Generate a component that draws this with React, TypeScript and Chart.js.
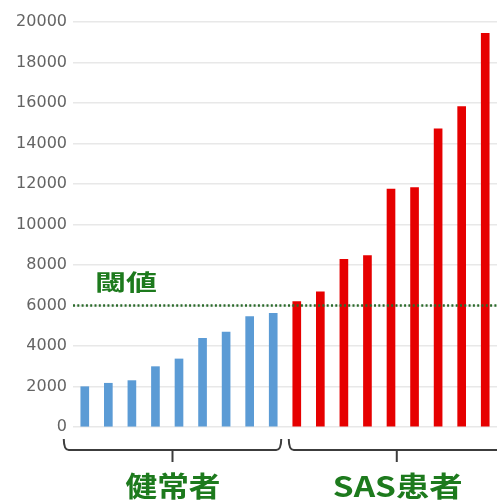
import React, { useEffect, useRef } from "react";
import { Chart, registerables } from "chart.js";

Chart.register(...registerables);

const healthyValues = [1990, 2160, 2290, 2980, 3360, 4380, 4690, 5450, 5610];
const sasValues = [6190, 6680, 8280, 8460, 11750, 11820, 14720, 15820, 19440];
const threshold = 6000;
const thresholdLabel = "閾値";
const groupLabels = ["健常者", "SAS患者"];
const yTicks = [0, 2000, 4000, 6000, 8000, 10000, 12000, 14000, 16000, 18000, 20000];

const BLUE = "#5b9bd5";
const RED = "#e60000";
const GREEN = "#1d7a1d";

function drawStretched(ctx: CanvasRenderingContext2D, text: string, left: number, baseline: number, font: string, targetW: number) {
  ctx.save();
  ctx.font = font;
  const w = ctx.measureText(text).width;
  const sx = targetW / w;
  ctx.translate(left, baseline);
  ctx.scale(sx, 1);
  ctx.textAlign = "left";
  ctx.textBaseline = "alphabetic";
  ctx.fillText(text, 0, 0);
  ctx.restore();
}

const overlayPlugin = {
  id: "overlay",
  afterDatasetsDraw(chart: any) {
    const { ctx, chartArea, scales } = chart;
    const x = scales.x;
    const y = scales.y;
    const ty = y.getPixelForValue(threshold);
    ctx.save();
    ctx.strokeStyle = "#2b6b2b";
    ctx.lineWidth = 2.5;
    ctx.setLineDash([2, 2.3]);
    ctx.beginPath();
    ctx.moveTo(chartArea.left, ty);
    ctx.lineTo(chartArea.right, ty);
    ctx.stroke();
    ctx.setLineDash([]);

    ctx.fillStyle = GREEN;
    drawStretched(ctx, thresholdLabel, chartArea.left + 22, ty - 16, 'bold 22px "Noto Sans CJK JP"', 62);

    const nH = healthyValues.length;
    const n = nH + sasValues.length;
    const yb = chartArea.bottom + 23;
    const yTop = yb - 11;
    ctx.strokeStyle = "#3c3c3c";
    ctx.lineWidth = 2;
    const b1l = x.getPixelForValue(0) - 21;
    const b1r = x.getPixelForValue(nH - 1) + 8;
    const b2l = x.getPixelForValue(nH) - 8;
    const b2r = x.getPixelForValue(n - 1) + 30;
    const drawBrace = (l: number, r: number, mid: number) => {
      ctx.beginPath();
      ctx.moveTo(l, yTop);
      ctx.quadraticCurveTo(l, yb, l + 5, yb);
      ctx.lineTo(r - 5, yb);
      ctx.quadraticCurveTo(r, yb, r, yTop);
      ctx.stroke();
      ctx.beginPath();
      ctx.moveTo(mid, yb);
      ctx.lineTo(mid, yb + 12);
      ctx.stroke();
    };
    const m1 = (b1l + b1r) / 2;
    const m2 = (x.getPixelForValue(13) + x.getPixelForValue(14)) / 2 - 6;
    drawBrace(b1l, b1r, m1);
    drawBrace(b2l, b2r, m2);

    ctx.fillStyle = GREEN;
    drawStretched(ctx, groupLabels[0], m1 - 47, chartArea.bottom + 70, 'bold 28px "Noto Sans CJK JP"', 95);
    drawStretched(ctx, groupLabels[1], m2 - 64, chartArea.bottom + 70, 'bold 28px "Noto Sans CJK JP"', 130);
    ctx.restore();
  },
};

export default function App() {
  const ref = useRef<HTMLCanvasElement | null>(null);
  useEffect(() => {
    if (!ref.current) return;
    const labels = [...healthyValues, ...sasValues].map((_, i) => String(i + 1));
    const data = [...healthyValues, ...sasValues];
    const colors = [...healthyValues.map(() => BLUE), ...sasValues.map(() => RED)];
    const chart = new Chart(ref.current, {
      type: "bar",
      data: {
        labels,
        datasets: [
          {
            data,
            backgroundColor: colors,
            borderWidth: 0,
            barThickness: 8,
          },
        ],
      },
      options: {
        animation: false,
        responsive: true,
        maintainAspectRatio: false,
        layout: { padding: { top: 22, bottom: 73, left: 0, right: 0 } },
        plugins: { legend: { display: false }, tooltip: { enabled: false } },
        scales: {
          x: { display: false },
          y: {
            min: 0,
            max: 20000,
            afterFit: (s: any) => {
              s.width = 73;
            },
            afterBuildTicks: (s: any) => {
              s.ticks = yTicks.map((v) => ({ value: v }));
            },
            border: { display: false },
            grid: { color: "#e8e8e8", lineWidth: 1.5, drawTicks: false },
            ticks: {
              padding: 6,
              color: "#646464",
              font: { family: "DejaVu Sans", size: 16 },
              callback: (v: any) => String(v),
            },
          },
        },
      },
      plugins: [overlayPlugin],
    });
    return () => chart.destroy();
  }, []);
  return (
    <div style={{ position: "absolute", left: 0, top: 0, width: 497, height: 500, background: "#fff" }}>
      <canvas ref={ref} />
    </div>
  );
}
